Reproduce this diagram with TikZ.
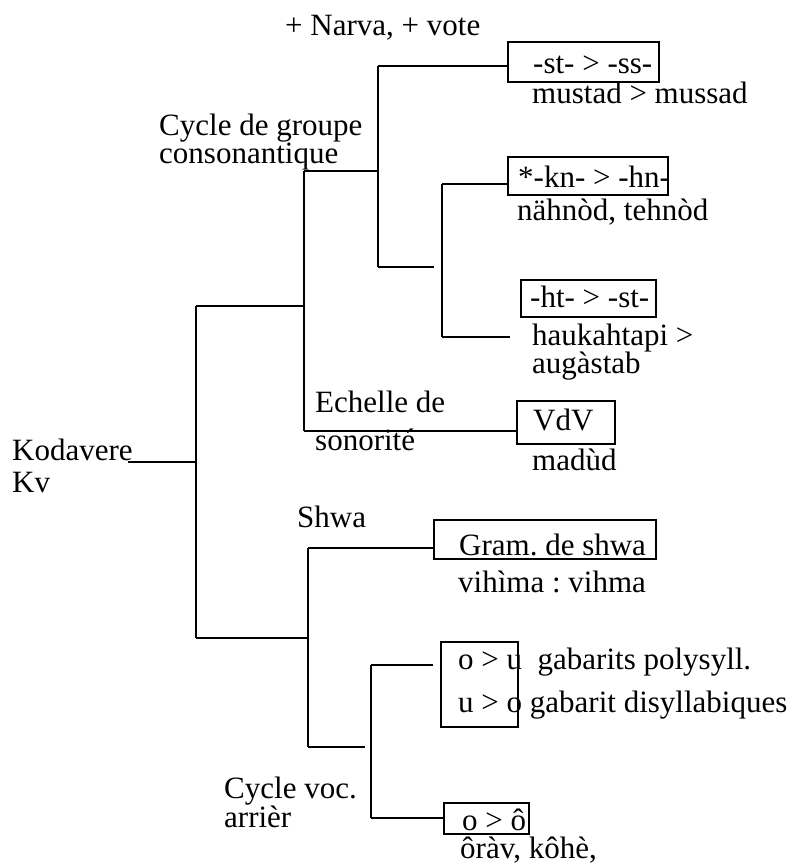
\documentclass[tikz,border=0pt]{standalone}
\usepackage{fontspec}
\setmainfont{Liberation Serif}
\frenchspacing
\begin{document}
\begin{tikzpicture}[x=1pt,y=-1pt,
  lbl/.style={font=\fontsize{31pt}{33pt}\selectfont, inner sep=0pt, anchor=base west},
  boxn/.style={draw, line width=1.2pt, inner sep=0pt, outer sep=0pt, anchor=north west},
  conn/.style={line width=1.2pt}]
\path[use as bounding box] (0,0) rectangle (798,865);

% boxes
\node[boxn, minimum width=151pt, minimum height=40pt] (bst) at (508,42) {};
\node[boxn, minimum width=160pt, minimum height=38pt] (bkn) at (508,157) {};
\node[boxn, minimum width=135pt, minimum height=37pt] (bht) at (521,280) {};
\node[boxn, minimum width=98pt, minimum height=43pt] (bvdv) at (517,401) {};
\node[boxn, minimum width=222pt, minimum height=39pt] (bgram) at (434,520) {};
\node[boxn, minimum width=77pt, minimum height=85pt] (bou) at (441,642) {};
\node[boxn, minimum width=85pt, minimum height=31pt] (bo) at (444,803) {};

% texts
\node[lbl] (narva) at (285,35) {+ Narva, + vote};
\node[lbl] (tst) at (533,73) {-st- > -ss-};
\node[lbl] (mustad) at (532,103) {mustad > mussad};
\node[lbl] (cyc1) at (159,135) {Cycle de groupe};
\node[lbl] (cyc2) at (159,163) {consonantique};
\node[lbl] (tkn) at (518,187) {*-kn- > -hn-};
\node[lbl] (nahn) at (517,220) {nähnòd, tehnòd};
\node[lbl] (tht) at (530,307) {-ht- > -st-};
\node[lbl] (hauk) at (532,345) {haukahtapi >};
\node[lbl] (aug) at (532,373) {augàstab};
\node[lbl] (ech1) at (315,412) {Echelle de};
\node[lbl] (ech2) at (315,450) {sonorité};
\node[lbl] (tvdv) at (533,430) {VdV};
\node[lbl] (madud) at (532,470) {madùd};
\node[lbl] (kod) at (12,460) {Kodavere};
\node[lbl] (kv) at (12,492) {Kv};
\node[lbl] (shwa) at (297,527) {Shwa};
\node[lbl] (tgram) at (459,555) {Gram. de shwa};
\node[lbl] (vih) at (458,592) {vihìma : vihma};
\node[lbl] (tou1) at (458,669) {o > u\ \ gabarits polysyll.};
\node[lbl] (tou2) at (458,712) {u > o gabarit disyllabiques};
\node[lbl] (cv1) at (224,798) {Cycle voc.};
\node[lbl] (cv2) at (224,827) {arrièr};
\node[lbl] (too) at (462,830) {o > ô};
\node[lbl] (orav) at (460,858) {ôràv, kôhè,};

% junction coordinates
\coordinate (a1) at (128,462);
\coordinate (s1) at (196,462);
\coordinate (m-t) at (196,306);
\coordinate (m-b) at (196,638);
\coordinate (u-t) at (304,171);
\coordinate (u-b) at (304,431);
\coordinate (g-t) at (378,66);
\coordinate (g-b) at (378,267);
\coordinate (g-e) at (434,267);
\coordinate (k-t) at (442,184);
\coordinate (k-b) at (442,337);
\coordinate (k-e) at (510,337);
\coordinate (l-t) at (308,548);
\coordinate (l-b) at (308,747);
\coordinate (l-e) at (365,747);
\coordinate (c-t) at (371,665);
\coordinate (c-b) at (371,818);
\coordinate (c-e) at (433,665);

% connectors
\draw[conn] (a1) -- (s1);
\draw[conn] (m-t) -- (m-b);
\draw[conn] (m-t) -- (u-t |- m-t);
\draw[conn] (u-t) -- (u-b);
\draw[conn] (u-b) -- (u-b -| bvdv.west);
\draw[conn] (u-t) -- (g-t |- u-t);
\draw[conn] (g-t) -- (g-b);
\draw[conn] (g-t) -- (g-t -| bst.west);
\draw[conn] (g-b) -- (g-e);
\draw[conn] (k-t) -- (k-b);
\draw[conn] (k-t) -- (k-t -| bkn.west);
\draw[conn] (k-b) -- (k-e);
\draw[conn] (m-b) -- (l-t |- m-b);
\draw[conn] (l-t) -- (l-b);
\draw[conn] (l-t) -- (l-t -| bgram.west);
\draw[conn] (l-b) -- (l-e);
\draw[conn] (c-t) -- (c-b);
\draw[conn] (c-t) -- (c-e);
\draw[conn] (c-b) -- (c-b -| bo.west);
\end{tikzpicture}
\end{document}
